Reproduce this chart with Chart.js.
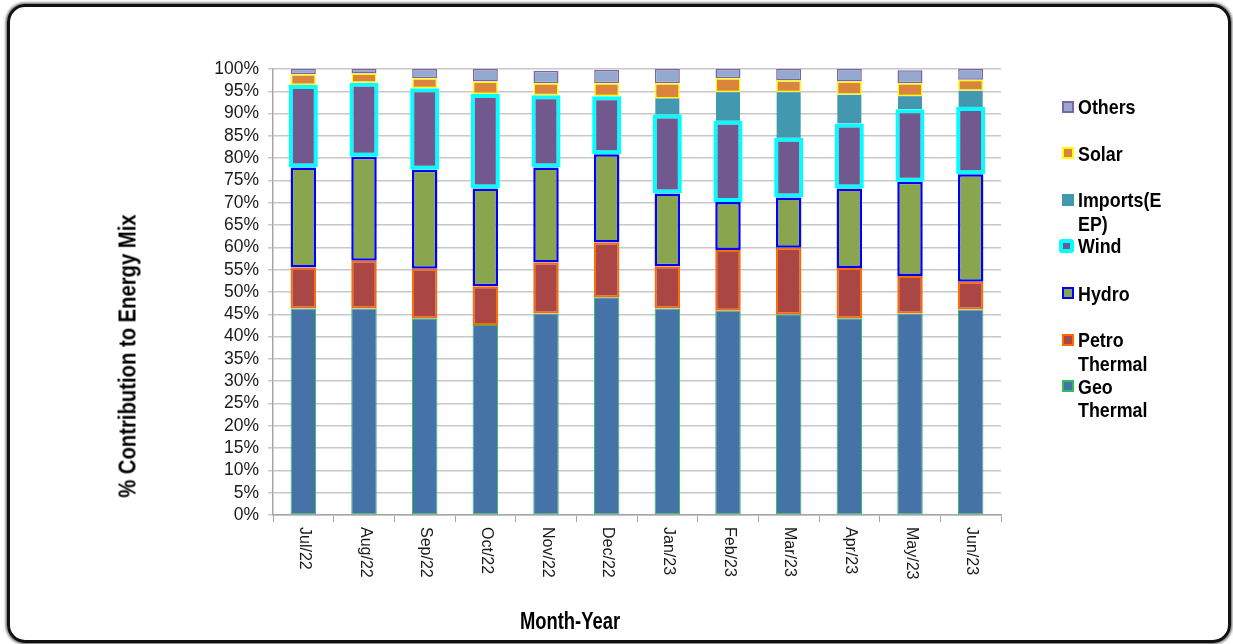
<!DOCTYPE html>
<html><head><meta charset="utf-8">
<script src="https://cdn.jsdelivr.net/npm/chart.js@4.4.0/dist/chart.umd.min.js"></script>
<style>
html,body{margin:0;padding:0;background:#fff;}
#wrap{position:relative;width:1233px;height:644px;overflow:hidden;background:#fff;}
#frame{position:absolute;left:7px;top:4px;width:1218px;height:633px;border:3px solid #111;border-radius:18px;box-shadow:0 0 3px 1px rgba(0,0,0,0.7);pointer-events:none;}
#cv{position:absolute;left:0;top:0;}
.nb{font-family:'Liberation Sans Narrow','Arial Narrow','Liberation Sans',sans-serif;font-weight:bold;color:#000;white-space:nowrap;}
#ytitle{position:absolute;left:128px;top:356px;font-size:23px;transform:translate(-50%,-50%) rotate(-90deg) scaleX(0.88);}
#xtitle{position:absolute;left:570px;top:621px;font-size:23px;transform:translate(-50%,-50%) scaleX(0.8);}
.li{position:absolute;left:1078px;font-size:21px;line-height:23.3px;transform:scaleX(0.85);transform-origin:0 50%;}
.sw{position:absolute;box-sizing:border-box;}
</style>
</head><body>
<div id="wrap">
<canvas id="cv" width="1233" height="644"></canvas>
<div id="ytitle" class="nb">% Contribution to Energy Mix</div>
<div id="xtitle" class="nb">Month-Year</div>
<div id="legend"></div>
<div id="frame"></div>
</div>
<script>
const categories = ['Jul/22','Aug/22','Sep/22','Oct/22','Nov/22','Dec/22','Jan/23','Feb/23','Mar/23','Apr/23','May/23','Jun/23'];
const geoThermal   = [46.3,46.3,44.1,42.6,45.2,48.8,46.3,45.8,45.0,44.1,45.2,46.1];
const petroThermal = [9.2,10.7,11.1,8.7,11.4,12.3,9.5,13.6,14.9,11.3,8.4,6.2];
const hydro        = [22.4,23.3,22.2,21.9,21.3,19.8,16.3,10.8,11.3,17.8,21.1,24.1];
const wind         = [18.5,16.6,18.3,21.2,16.2,13.0,17.7,18.2,13.4,14.6,16.3,15.1];
const importsEEP   = [0,0,0,0,0,0,3.6,6.4,10.2,6.4,2.9,3.6];
const solar        = [2.4,2.1,2.2,2.8,2.7,2.9,3.4,3.1,2.6,3.0,2.9,2.5];
const others       = [1.2,1.0,2.1,2.8,2.8,3.0,3.2,2.1,2.6,2.8,2.9,2.4];
const yTicks = [0,5,10,15,20,25,30,35,40,45,50,55,60,65,70,75,80,85,90,95,100];

const seriesNames = ['Geo Thermal','Petro Thermal','Hydro','Wind','Imports(EEP)','Solar','Others'];
const legendLines = [['Geo','Thermal'],['Petro','Thermal'],['Hydro'],['Wind'],['Imports(E','EP)'],['Solar'],['Others']];
const seriesData = [geoThermal, petroThermal, hydro, wind, importsEEP, solar, others];
const fills   = ['#4572A7','#AA4643','#89A54E','#71588F','#4198AF','#DB843D','#93A9CF'];
const borders = ['#2DBE5A','#FF6A00','#0000FF','#00FFFF','#4198AF','#FFFF00','#8064A2'];
const bWidths = [1,2,2.5,4,0,1.5,1.5];
const barPct  = [0.42,0.42,0.42,0.478,0.396,0.412,0.412];

const datasets = seriesData.map((d,i)=>({
  label: seriesNames[i],
  data: d,
  backgroundColor: fills[i],
  borderColor: borders[i],
  borderWidth: bWidths[i],
  borderSkipped: false,
  barPercentage: barPct[i],
  categoryPercentage: 1,
  inflateAmount: 0
}));

const xLabelPlugin = {
  id:'xlabels',
  afterDraw(chart){
    const xs = chart.scales.x; const ctx = chart.ctx;
    ctx.save();
    ctx.font = '16px "Liberation Sans", Arial, sans-serif';
    ctx.fillStyle = '#1a1a1a'; ctx.textAlign='left'; ctx.textBaseline='middle';
    categories.forEach((c,i)=>{
      const x = xs.getPixelForValue(i);
      ctx.save(); ctx.translate(x+1, 527); ctx.rotate(Math.PI/2); ctx.fillText(c,0,0); ctx.restore();
    });
    ctx.restore();
  }
};

new Chart(document.getElementById('cv'), {
  type:'bar',
  data:{labels:categories, datasets},
  options:{
    responsive:false, animation:false, devicePixelRatio:1,
    layout:{padding:{left:0,top:69,right:232,bottom:0}},
    plugins:{legend:{display:false}, tooltip:{enabled:false}},
    scales:{
      x:{stacked:true,
         grid:{display:true, drawOnChartArea:false, drawTicks:true, tickLength:7, color:'#A6A6A6', offset:true},
         border:{display:true,color:'#A6A6A6',width:1.5},
         ticks:{display:false},
         afterFit(s){ s.height = 644-515; }
      },
      y:{stacked:true, min:0, max:100,
         afterBuildTicks(s){ s.ticks = yTicks.map(v=>({value:v})); },
         ticks:{autoSkip:false, callback:v=>v+'%', font:{family:'"Liberation Sans", Arial, sans-serif', size:17.5}, color:'#1a1a1a', padding:9},
         grid:{color:'#C8C8C8', lineWidth:1.5, tickLength:5},
         border:{display:true,color:'#A6A6A6',width:1.5},
         afterFit(s){ s.width = 273; }
      }
    }
  },
  plugins:[xLabelPlugin]
});

// legend (series order reversed, as in the reference)
const legendCenters = [107,153.3,200,245.7,293.3,340,386.3];
const lg = document.getElementById('legend');
for (let k=0;k<7;k++){
  const i = 6-k;
  const cy = legendCenters[k];
  const sw = document.createElement('div'); sw.className='sw';
  if (i===3){
    Object.assign(sw.style,{left:'1059px',top:(cy-7)+'px',width:'15px',height:'14px',background:fills[i],border:'4px solid '+borders[i],borderRadius:'3px'});
  } else {
    Object.assign(sw.style,{left:'1062px',top:(cy-6)+'px',width:'12px',height:'12px',background:fills[i],border:(bWidths[i]?'2px solid '+borders[i]:'none')});
  }
  lg.appendChild(sw);
  const t = document.createElement('div'); t.className='li nb';
  t.style.top = (cy-11.65)+'px';
  t.innerHTML = legendLines[i].join('<br>');
  lg.appendChild(t);
}
</script>
</body></html>
